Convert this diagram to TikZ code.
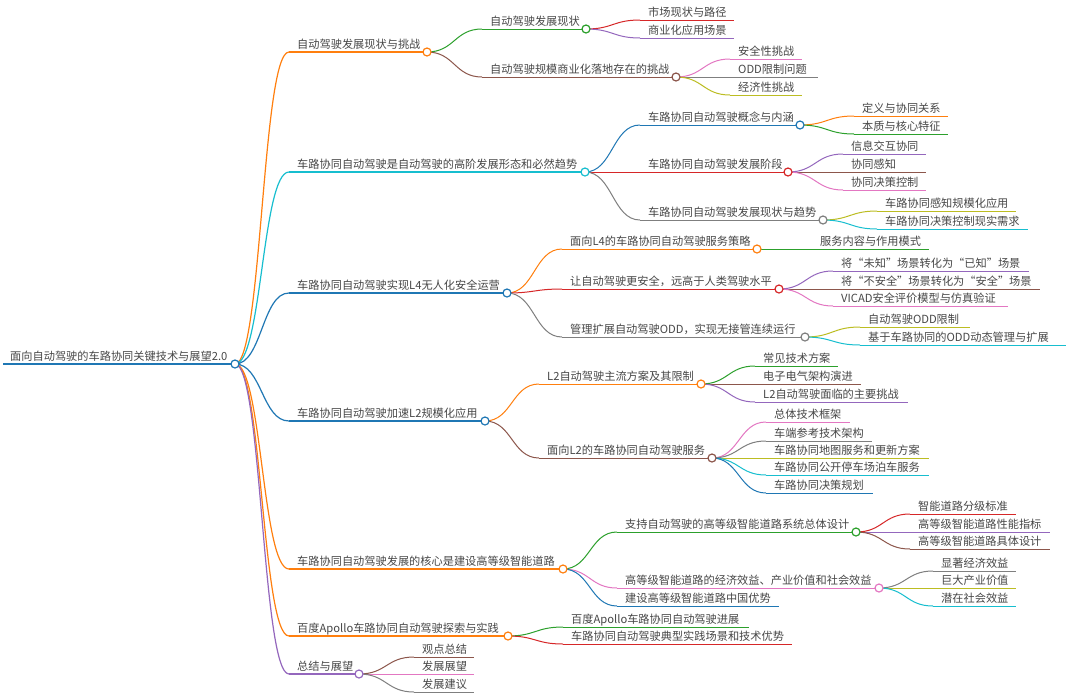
\documentclass[tikz,border=0pt]{standalone}
\usepackage{fontspec}
\setmainfont{Noto Sans CJK SC}
\usetikzlibrary{calc}
\definecolor{mblue}{HTML}{1F77B4}
\definecolor{morange}{HTML}{FF7F0E}
\definecolor{mgreen}{HTML}{2CA02C}
\definecolor{mred}{HTML}{D62728}
\definecolor{mpurple}{HTML}{9467BD}
\definecolor{mbrown}{HTML}{8C564B}
\definecolor{mpink}{HTML}{E377C2}
\definecolor{mgray}{HTML}{7F7F7F}
\definecolor{molive}{HTML}{BCBD22}
\definecolor{mcyan}{HTML}{17BECF}
\definecolor{txt}{HTML}{474747}
\pgfdeclarelayer{bgfill}
\pgfdeclarelayer{bg}
\pgfsetlayers{bgfill,bg,main}
\tikzset{
  lbl/.style={anchor=base west, inner sep=0pt, text=txt, font=\fontsize{11.2}{13}\selectfont},
  dot/.style={circle, draw=#1, fill=white, line width=1.2pt, minimum size=8pt, inner sep=0pt},
  wire/.style={draw=#1, line width=1pt},
  wirea/.style={draw=#1, line width=1.2pt},
}
% connector from parent circle to child line start
\newcommand\mmlink[3]{%
  \begin{pgfonlayer}{bg}
  \draw[#3] let \p1=(#1.center), \p2=(#2) in
    (\p1) .. controls ({(\x1+\x2)/2},\y1) and ({(\x1+\x2)/2},\y2) .. (\p2);
  \end{pgfonlayer}}
% internal node: name, parent, textx, y, circx, color, style, text
\newcommand\mmin[8]{%
  \coordinate (#1-s) at (#3-8,#4);
  \node[lbl] (#1-t) at (#3,#4-3.5) {#8};
  \node[dot=#6] (#1) at (#5,#4) {};
  \begin{pgfonlayer}{bg}
  \draw[#7=#6] (#1-s) -- (#1.center);
  \end{pgfonlayer}
  \mmlink{#2}{#1-s}{#7=#6}}
% leaf: name, parent, textx, y, endx, color, text
\newcommand\mmleaf[7]{%
  \coordinate (#1-s) at (#3-8,#4);
  \coordinate (#1-e) at (#5,#4);
  \node[lbl] (#1-t) at (#3,#4-3.5) {#7};
  \begin{pgfonlayer}{bg}
  \draw[wire=#6] (#1-s) -- (#1-e);
  \end{pgfonlayer}
  \mmlink{#2}{#1-s}{wire=#6}}
\begin{document}
\begin{tikzpicture}[x=1pt,y=-1pt]
\begin{pgfonlayer}{bgfill}
\fill[white] (0,0) rectangle (1071,697);
\end{pgfonlayer}
\useasboundingbox (0,0) rectangle (1071,697);
% root
\coordinate (root-s) at (3,364);
\node[lbl] (root-t) at (10,360.5) {面向自动驾驶的车路协同关键技术与展望2.0};
\node[dot=mblue] (root) at (235,364) {};
\begin{pgfonlayer}{bg}\draw[wirea=mblue] (root-s) -- (root.center);\end{pgfonlayer}
% level 1
\mmin{n1}{root}{297}{52}{427}{morange}{wirea}{自动驾驶发展现状与挑战}
\mmin{n2}{root}{297}{172}{585}{mcyan}{wirea}{车路协同自动驾驶是自动驾驶的高阶发展形态和必然趋势}
\mmin{n3}{root}{297}{293}{507}{mblue}{wirea}{车路协同自动驾驶实现L4无人化安全运营}
\mmin{n4}{root}{297}{421}{485}{mblue}{wirea}{车路协同自动驾驶加速L2规模化应用}
\mmin{n5}{root}{297}{569}{563}{morange}{wirea}{车路协同自动驾驶发展的核心是建设高等级智能道路}
\mmin{n6}{root}{297}{636}{508}{morange}{wirea}{百度Apollo车路协同自动驾驶探索与实践}
\mmin{n7}{root}{297}{674}{359}{mpurple}{wirea}{总结与展望}
% branch 1
\mmin{n11}{n1}{490}{29}{586}{mgreen}{wire}{自动驾驶发展现状}
\mmin{n12}{n1}{490}{77}{676}{mbrown}{wire}{自动驾驶规模商业化落地存在的挑战}
\mmleaf{n111}{n11}{648}{20}{734}{mred}{市场现状与路径}
\mmleaf{n112}{n11}{648}{38}{734}{mpurple}{商业化应用场景}
\mmleaf{n121}{n12}{738}{59}{802}{mpink}{安全性挑战}
\mmleaf{n122}{n12}{738}{77}{818}{mgray}{ODD限制问题}
\mmleaf{n123}{n12}{738}{95}{802}{molive}{经济性挑战}
% branch 2
\mmin{n21}{n2}{648}{125}{800}{mblue}{wire}{车路协同自动驾驶概念与内涵}
\mmin{n22}{n2}{648}{172}{788}{mred}{wire}{车路协同自动驾驶发展阶段}
\mmin{n23}{n2}{648}{220}{823}{mgray}{wire}{车路协同自动驾驶发展现状与趋势}
\mmleaf{n211}{n21}{862}{116}{948}{morange}{定义与协同关系}
\mmleaf{n212}{n21}{862}{134}{948}{mgreen}{本质与核心特征}
\mmleaf{n221}{n22}{851}{154}{926}{mpurple}{信息交互协同}
\mmleaf{n222}{n22}{851}{172}{926}{mbrown}{协同感知}
\mmleaf{n223}{n22}{851}{190}{926}{mpink}{协同决策控制}
\mmleaf{n231}{n23}{885}{211}{1016}{molive}{车路协同感知规模化应用}
\mmleaf{n232}{n23}{885}{229}{1028}{mcyan}{车路协同决策控制现实需求}
% branch 3
\mmin{n31}{n3}{570}{249}{757}{morange}{wire}{面向L4的车路协同自动驾驶服务策略}
\mmin{n32}{n3}{570}{289}{779}{mred}{wire}{让自动驾驶更安全，远高于人类驾驶水平}
\mmin{n33}{n3}{570}{337}{805}{mgray}{wire}{管理扩展自动驾驶ODD，实现无接管连续运行}
\mmleaf{n311}{n31}{820}{249}{929}{mgreen}{服务内容与作用模式}
\mmleaf{n321}{n32}{841}{271}{1029}{mpurple}{将“未知”场景转化为“已知”场景}
\mmleaf{n322}{n32}{841}{289}{1040}{mbrown}{将“不安全”场景转化为“安全”场景}
\mmleaf{n323}{n32}{841}{306}{1008}{mpink}{VICAD安全评价模型与仿真验证}
\mmleaf{n331}{n33}{868}{327}{970}{molive}{自动驾驶ODD限制}
\mmleaf{n332}{n33}{868}{345}{1066}{mcyan}{基于车路协同的ODD动态管理与扩展}
% branch 4
\mmin{n41}{n4}{547}{384}{701}{morange}{wire}{L2自动驾驶主流方案及其限制}
\mmin{n42}{n4}{547}{458}{712}{mbrown}{wire}{面向L2的车路协同自动驾驶服务}
\mmleaf{n411}{n41}{763}{366}{838}{mgreen}{常见技术方案}
\mmleaf{n412}{n41}{763}{384}{861}{mbrown}{电子电气架构演进}
\mmleaf{n413}{n41}{763}{402}{908}{mpurple}{L2自动驾驶面临的主要挑战}
\mmleaf{n421}{n42}{774}{422}{850}{mpink}{总体技术框架}
\mmleaf{n422}{n42}{774}{441}{872}{mgray}{车端参考技术架构}
\mmleaf{n423}{n42}{774}{458}{929}{molive}{车路协同地图服务和更新方案}
\mmleaf{n424}{n42}{774}{475}{929}{mcyan}{车路协同公开停车场泊车服务}
\mmleaf{n425}{n42}{774}{493}{873}{mblue}{车路协同决策规划}
% branch 5
\mmin{n51}{n5}{625}{532}{856}{mgreen}{wire}{支持自动驾驶的高等级智能道路系统总体设计}
\mmin{n52}{n5}{625}{588}{879}{mpink}{wire}{高等级智能道路的经济效益、产业价值和社会效益}
\mmleaf{n53}{n5}{625}{606}{779}{mblue}{建设高等级智能道路中国优势}
\mmleaf{n511}{n51}{918}{514}{1016}{mred}{智能道路分级标准}
\mmleaf{n512}{n51}{918}{532}{1050}{mpurple}{高等级智能道路性能指标}
\mmleaf{n513}{n51}{918}{549}{1050}{mbrown}{高等级智能道路具体设计}
\mmleaf{n521}{n52}{941}{571}{1016}{mgray}{显著经济效益}
\mmleaf{n522}{n52}{941}{588}{1016}{molive}{巨大产业价值}
\mmleaf{n523}{n52}{941}{606}{1016}{mcyan}{潜在社会效益}
% branch 6
\mmleaf{n61}{n6}{571}{627}{749}{mgreen}{百度Apollo车路协同自动驾驶进展}
\mmleaf{n62}{n6}{571}{644}{792}{mred}{车路协同自动驾驶典型实践场景和技术优势}
% branch 7
\mmleaf{n71}{n7}{422}{657}{474}{mbrown}{观点总结}
\mmleaf{n72}{n7}{422}{674}{474}{mpink}{发展展望}
\mmleaf{n73}{n7}{422}{692}{474}{mgray}{发展建议}
\end{tikzpicture}
\end{document}
